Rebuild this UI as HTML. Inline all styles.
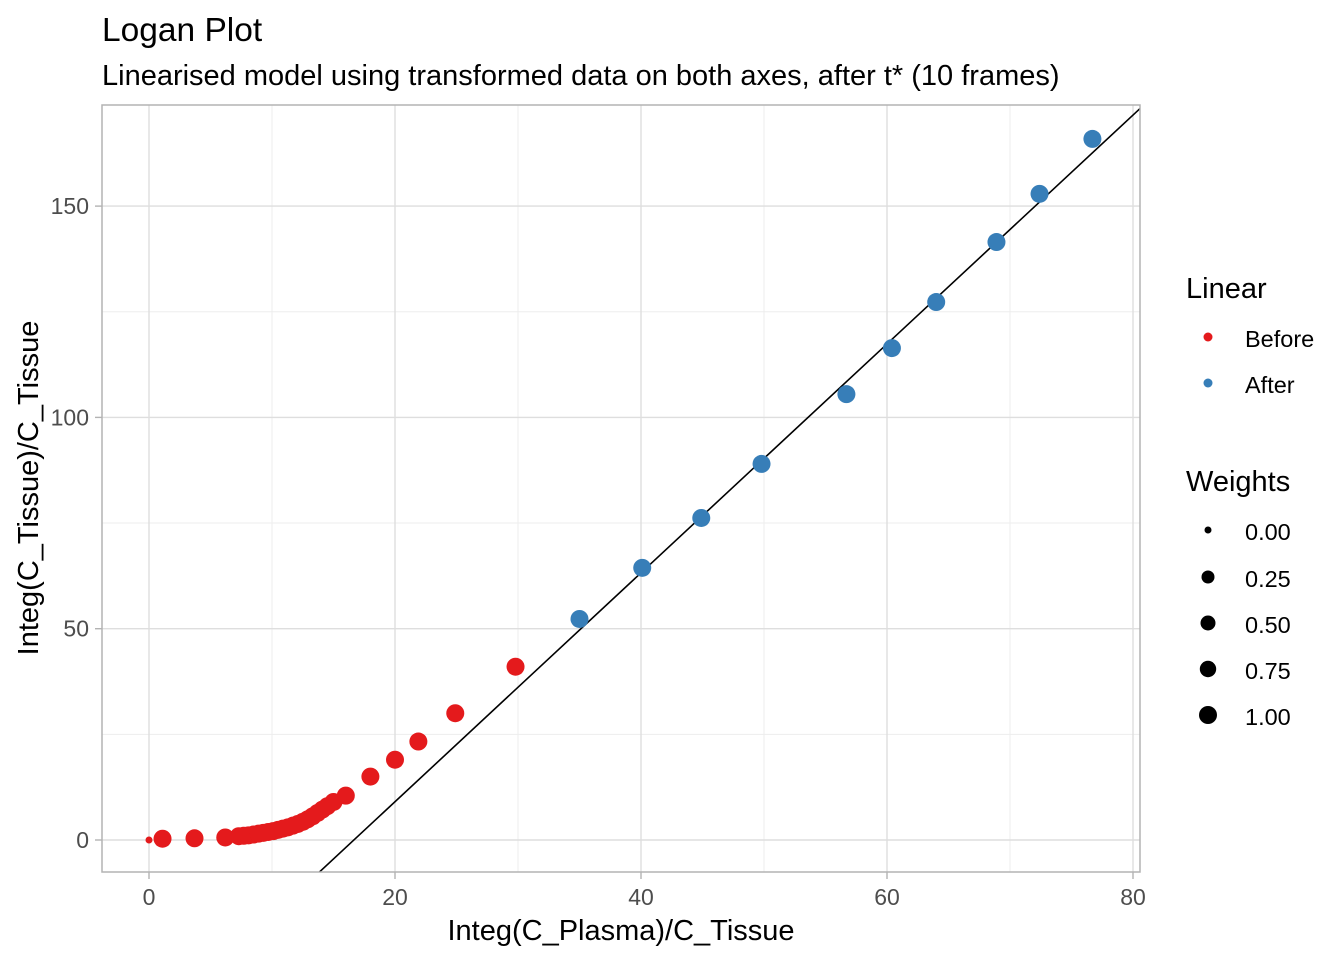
<!DOCTYPE html>
<html><head><meta charset="utf-8"><style>
html,body{margin:0;background:#fff;font-family:"Liberation Sans",sans-serif;overflow:hidden;width:1344px;height:960px}
svg{display:block}
svg text{font-family:"Liberation Sans",sans-serif}
</style></head><body>
<svg id="chart" width="1344" height="960" xmlns="http://www.w3.org/2000/svg">
<rect width="1344" height="960" fill="#fff"/>
<text x="102" y="41" font-size="33.5" fill="#000">Logan Plot</text>
<text x="102" y="85" font-size="29" fill="#000">Linearised model using transformed data on both axes, after t* (10 frames)</text>
<g id="grid"></g>
<g id="ticks"></g>
<defs><clipPath id="clip"><rect x="102" y="105" width="1038" height="767"/></clipPath></defs>
<g id="fit" clip-path="url(#clip)"></g>
<g id="points"></g>
<rect x="102" y="105" width="1038" height="767" fill="none" stroke="#b3b3b3" stroke-width="1.5"/>
<text x="621" y="940" font-size="29" text-anchor="middle" fill="#000">Integ(C_Plasma)/C_Tissue</text>
<text transform="translate(38,488) rotate(-90)" font-size="29" text-anchor="middle" fill="#000">Integ(C_Tissue)/C_Tissue</text>
<g>
<text x="1186" y="298" font-size="29" fill="#000">Linear</text>
<circle cx="1208" cy="337" r="4.5" fill="#E41A1C"/>
<text x="1245" y="347" font-size="23.5" fill="#000">Before</text>
<circle cx="1208" cy="383" r="4.5" fill="#377EB8"/>
<text x="1245" y="393" font-size="23.5" fill="#000">After</text>
</g>
<g>
<text x="1186" y="491" font-size="29" fill="#000">Weights</text>
<circle cx="1208" cy="530" r="3.5" fill="#000"/>
<text x="1245" y="540" font-size="23.5">0.00</text>
<circle cx="1208" cy="577" r="6.5" fill="#000"/>
<text x="1245" y="587" font-size="23.5">0.25</text>
<circle cx="1208" cy="623" r="7.5" fill="#000"/>
<text x="1245" y="633" font-size="23.5">0.50</text>
<circle cx="1208" cy="669" r="8.2" fill="#000"/>
<text x="1245" y="679" font-size="23.5">0.75</text>
<circle cx="1208" cy="715" r="9" fill="#000"/>
<text x="1245" y="725" font-size="23.5">1.00</text>
</g>
</svg>
<script>
const beforeX=[0,1.1,3.7,6.2,7.3,7.7,8.1,8.5,8.9,9.3,9.7,10.1,10.5,10.9,11.3,11.7,12.1,12.5,12.9,13.3,13.7,14.1,14.5,15.0,16.0,18.0,20.0,21.9,24.9,29.8];
const beforeY=[0,0.3,0.4,0.6,0.9,1.0,1.1,1.3,1.5,1.7,1.9,2.1,2.4,2.7,3.0,3.4,3.8,4.3,4.9,5.6,6.4,7.2,8.0,9.0,10.5,15,19,23.3,30,41];
const beforeW=[0,1,1,1,1,1,1,1,1,1,1,1,1,1,1,1,1,1,1,1,1,1,1,1,1,1,1,1,1,1];
const afterX=[35.0,40.1,44.9,49.8,56.7,60.4,64.0,68.9,72.4,76.7];
const afterY=[52.3,64.4,76.2,89.0,105.5,116.4,127.3,141.5,152.9,165.9];
const fitSlope=[2.708];
const fitIntercept=[-45.1];
const xTicks=[0,20,40,60,80];
const yTicks=[0,50,100,150];
const xMinor=[10,30,50,70];
const yMinor=[25,75,125];
const X=v=>149+v*12.3, Y=v=>840-v*4.226;
const NS="http://www.w3.org/2000/svg";
function mk(t,a,p){const e=document.createElementNS(NS,t);for(const k in a)e.setAttribute(k,a[k]);document.getElementById(p).appendChild(e);return e;}
xMinor.forEach(v=>{const e=mk('line',{x1:X(v),x2:X(v),y1:105,y2:872,stroke:'#ededed','stroke-width':1},'grid');

});
yMinor.forEach(v=>{const e=mk('line',{x1:102,x2:1140,y1:Y(v),y2:Y(v),stroke:'#ededed','stroke-width':1},'grid');

});
xTicks.forEach(v=>{const e=mk('line',{x1:X(v),x2:X(v),y1:105,y2:872,stroke:'#dedede','stroke-width':1.4},'grid');


const k=mk('line',{x1:X(v),x2:X(v),y1:872,y2:879,stroke:'#b3b3b3','stroke-width':1.4},'ticks');


const t=mk('text',{x:X(v),y:905,'font-size':23,'text-anchor':'middle',fill:'#4d4d4d'},'ticks');t.textContent=v;

});
yTicks.forEach(v=>{const e=mk('line',{x1:102,x2:1140,y1:Y(v),y2:Y(v),stroke:'#dedede','stroke-width':1.4},'grid');


const k=mk('line',{x1:95,x2:102,y1:Y(v),y2:Y(v),stroke:'#b3b3b3','stroke-width':1.4},'ticks');


const t=mk('text',{x:89,y:Y(v)+8,'font-size':23,'text-anchor':'end',fill:'#4d4d4d'},'ticks');t.textContent=v;

});
const x0=-4,x1=82;
const fl=mk('line',{x1:X(x0),y1:Y(fitSlope[0]*x0+fitIntercept[0]),x2:X(x1),y2:Y(fitSlope[0]*x1+fitIntercept[0]),stroke:'#000','stroke-width':1.6},'fit');


beforeX.forEach((v,i)=>{const c=mk('circle',{cx:X(v),cy:Y(beforeY[i]),r:3.5+5.5*beforeW[i],fill:'#E41A1C'},'points');

});
afterX.forEach((v,i)=>{const c=mk('circle',{cx:X(v),cy:Y(afterY[i]),r:9,fill:'#377EB8'},'points');

});
</script>
</body></html>
